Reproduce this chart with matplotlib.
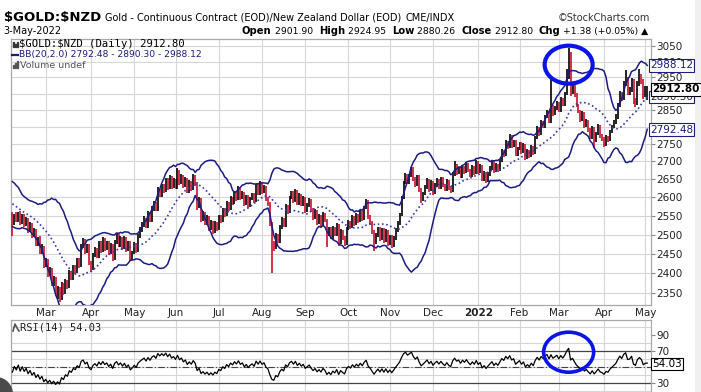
import matplotlib
matplotlib.use('Agg')
import matplotlib.pyplot as plt
from matplotlib.patches import Ellipse, Rectangle
from matplotlib.lines import Line2D
from matplotlib.ticker import NullLocator
from matplotlib.transforms import IdentityTransform, blended_transform_factory
import numpy as np
import pandas as pd

# daily closes before the visible window (only feed the BB / RSI warm-up)
warmup_close = [2618, 2628, 2613, 2633, 2623, 2603, 2588, 2598, 2578, 2583,
                2573, 2588, 2578, 2568, 2558, 2563, 2548, 2538, 2533]

# $GOLD:$NZD daily bars, 4-Feb-2021 .. 3-May-2022 (one row per week)
close = [
    2532, 2551,
    2538, 2556, 2531, 2549, 2527,
    2540, 2512, 2526, 2498, 2510,
    2476, 2489, 2455, 2468, 2421,
    2432, 2398, 2410, 2374, 2386,
    2349, 2362, 2338, 2371, 2352,
    2380, 2366, 2401, 2388, 2415,
    2405, 2433, 2419, 2470, 2482,
    2455, 2470, 2428, 2412, 2446,
    2461, 2444, 2478, 2459, 2486,
    2464, 2478, 2452, 2471, 2438,
    2480, 2497, 2472, 2490, 2466,
    2489, 2461, 2478, 2437, 2452,
    2474, 2458, 2495, 2512, 2526,
    2541, 2522, 2556, 2538, 2569,
    2584, 2568, 2620, 2606, 2631,
    2619, 2648, 2627, 2655, 2630,
    2646, 2628, 2670, 2641, 2659,
    2632, 2650, 2617, 2641, 2624,
    2657, 2638, 2575, 2594, 2541,
    2556, 2530, 2545, 2516, 2532,
    2508, 2529, 2515, 2547, 2536,
    2566, 2552, 2584, 2569, 2598,
    2585, 2612, 2596, 2624, 2599,
    2611, 2583, 2601, 2578, 2596,
    2607, 2590, 2632, 2611, 2638,
    2615, 2628, 2597, 2583, 2530,
    2478, 2465, 2498, 2483, 2519,
    2540, 2525, 2576, 2560, 2598,
    2612, 2590, 2617, 2584, 2605,
    2581, 2597, 2563, 2578, 2592,
    2566, 2545, 2561, 2532, 2548,
    2527, 2553, 2538, 2500, 2515,
    2493, 2517, 2501, 2524, 2480,
    2508, 2491, 2477, 2515, 2533,
    2520, 2546, 2529, 2551, 2537,
    2560, 2543, 2571, 2588, 2548,
    2531, 2507, 2479, 2498, 2515,
    2490, 2512, 2484, 2508, 2476,
    2494, 2470, 2489, 2511, 2530,
    2552, 2598, 2640, 2661, 2642,
    2660, 2679, 2652, 2635, 2657,
    2621, 2594, 2609, 2627, 2646,
    2620, 2641, 2612, 2633, 2647,
    2628, 2651, 2634, 2622, 2645,
    2627, 2618, 2663, 2688, 2669,
    2679, 2658, 2684, 2671, 2693,
    2675, 2661, 2683, 2668, 2697,
    2672, 2687, 2650, 2667, 2646,
    2664, 2681, 2697, 2673, 2690,
    2676, 2702, 2730, 2719, 2756,
    2742, 2771, 2745, 2757, 2721,
    2736, 2751, 2728, 2746, 2712,
    2729, 2716, 2741, 2725, 2768,
    2797, 2780, 2815, 2802, 2831,
    2845, 2818, 2863, 2840, 2856,
    2872, 2850, 2884, 2868, 2899,
    2952, 2995, 2907, 2930, 2897,
    2866, 2848, 2822, 2841, 2803,
    2818, 2792, 2770, 2796, 2761,
    2780, 2803, 2774, 2766, 2748,
    2770, 2762, 2785, 2800, 2815,
    2830, 2865, 2900, 2885, 2930,
    2950, 2905, 2910, 2940, 2880,
    2870, 2930, 2955, 2940, 2895,
    2911.42, 2912.80,
]
high = [
    2560, 2555,
    2559, 2561, 2563, 2555, 2554,
    2546, 2544, 2533, 2530, 2516,
    2515, 2494, 2495, 2474, 2471,
    2438, 2436, 2416, 2413, 2392,
    2390, 2368, 2366, 2377, 2375,
    2386, 2384, 2407, 2405, 2421,
    2420, 2439, 2438, 2476, 2490,
    2487, 2476, 2474, 2432, 2452,
    2467, 2465, 2484, 2482, 2493,
    2490, 2484, 2482, 2477, 2475,
    2486, 2505, 2501, 2496, 2494,
    2495, 2493, 2484, 2482, 2458,
    2480, 2478, 2501, 2519, 2533,
    2548, 2545, 2562, 2560, 2575,
    2590, 2588, 2627, 2624, 2637,
    2636, 2654, 2652, 2661, 2659,
    2652, 2650, 2681, 2675, 2665,
    2663, 2656, 2654, 2647, 2645,
    2664, 2662, 2642, 2600, 2598,
    2562, 2560, 2551, 2549, 2538,
    2536, 2535, 2533, 2553, 2552,
    2572, 2570, 2590, 2588, 2604,
    2602, 2618, 2616, 2630, 2628,
    2617, 2615, 2607, 2605, 2602,
    2613, 2611, 2638, 2636, 2644,
    2642, 2634, 2632, 2601, 2587,
    2534, 2484, 2504, 2502, 2525,
    2546, 2544, 2582, 2580, 2604,
    2618, 2616, 2623, 2621, 2611,
    2609, 2603, 2601, 2584, 2598,
    2596, 2570, 2567, 2565, 2554,
    2552, 2559, 2557, 2542, 2521,
    2519, 2523, 2521, 2530, 2528,
    2514, 2512, 2495, 2521, 2539,
    2537, 2552, 2550, 2557, 2555,
    2566, 2564, 2577, 2594, 2592,
    2552, 2535, 2511, 2504, 2521,
    2519, 2518, 2516, 2514, 2512,
    2500, 2498, 2495, 2517, 2536,
    2558, 2604, 2646, 2668, 2666,
    2666, 2685, 2683, 2656, 2663,
    2661, 2625, 2615, 2633, 2652,
    2650, 2647, 2645, 2639, 2653,
    2651, 2657, 2655, 2638, 2651,
    2649, 2631, 2669, 2702, 2692,
    2685, 2683, 2690, 2688, 2699,
    2697, 2679, 2689, 2687, 2703,
    2701, 2693, 2691, 2673, 2671,
    2670, 2687, 2703, 2701, 2696,
    2694, 2708, 2736, 2734, 2762,
    2760, 2778, 2775, 2763, 2761,
    2742, 2757, 2755, 2752, 2750,
    2735, 2733, 2747, 2745, 2774,
    2803, 2801, 2821, 2819, 2837,
    2851, 2849, 2955, 2867, 2862,
    2878, 2876, 2890, 2888, 2905,
    2977, 3043, 3030, 2936, 2934,
    2901, 2870, 2852, 2847, 2845,
    2824, 2822, 2796, 2802, 2800,
    2786, 2809, 2807, 2778, 2770,
    2776, 2774, 2791, 2806, 2821,
    2840, 2872, 2908, 2905, 2938,
    2972, 2950, 2920, 2948, 2945,
    2888, 2938, 2975, 2962, 2945,
    2925, 2924.95,
]
low = [
    2495, 2525,
    2533, 2532, 2524, 2527, 2521,
    2522, 2505, 2507, 2492, 2493,
    2470, 2469, 2449, 2450, 2414,
    2415, 2391, 2393, 2367, 2369,
    2342, 2335, 2328, 2334, 2346,
    2348, 2360, 2362, 2382, 2384,
    2399, 2401, 2413, 2415, 2465,
    2449, 2451, 2421, 2403, 2408,
    2441, 2438, 2440, 2453, 2455,
    2458, 2460, 2446, 2448, 2430,
    2434, 2476, 2466, 2468, 2460,
    2462, 2455, 2457, 2430, 2433,
    2448, 2452, 2454, 2490, 2507,
    2521, 2516, 2518, 2532, 2534,
    2564, 2562, 2564, 2600, 2602,
    2613, 2615, 2621, 2623, 2624,
    2626, 2622, 2624, 2635, 2637,
    2626, 2628, 2611, 2613, 2618,
    2620, 2632, 2566, 2570, 2534,
    2537, 2524, 2526, 2510, 2512,
    2502, 2504, 2509, 2511, 2530,
    2532, 2546, 2548, 2563, 2565,
    2579, 2581, 2590, 2592, 2593,
    2595, 2577, 2579, 2572, 2574,
    2592, 2584, 2586, 2605, 2607,
    2609, 2611, 2591, 2577, 2522,
    2400, 2458, 2461, 2477, 2479,
    2515, 2519, 2521, 2554, 2556,
    2594, 2584, 2586, 2578, 2580,
    2575, 2577, 2557, 2559, 2574,
    2560, 2539, 2541, 2526, 2528,
    2521, 2523, 2532, 2466, 2496,
    2487, 2489, 2495, 2497, 2470,
    2476, 2485, 2471, 2473, 2511,
    2514, 2516, 2523, 2525, 2531,
    2533, 2537, 2539, 2567, 2542,
    2525, 2501, 2458, 2475, 2494,
    2484, 2486, 2478, 2480, 2470,
    2472, 2464, 2466, 2485, 2507,
    2526, 2548, 2594, 2636, 2636,
    2638, 2656, 2646, 2629, 2631,
    2615, 2585, 2590, 2605, 2623,
    2614, 2616, 2606, 2608, 2629,
    2622, 2624, 2628, 2616, 2618,
    2621, 2612, 2614, 2659, 2663,
    2665, 2652, 2654, 2665, 2667,
    2669, 2655, 2657, 2662, 2664,
    2666, 2668, 2644, 2646, 2640,
    2642, 2660, 2677, 2667, 2669,
    2670, 2672, 2698, 2713, 2715,
    2736, 2738, 2739, 2741, 2715,
    2717, 2732, 2722, 2724, 2704,
    2708, 2710, 2712, 2719, 2721,
    2764, 2774, 2776, 2796, 2798,
    2827, 2812, 2812, 2834, 2836,
    2852, 2844, 2846, 2862, 2864,
    2895, 2945, 2892, 2900, 2889,
    2860, 2842, 2816, 2818, 2797,
    2799, 2786, 2764, 2766, 2740,
    2757, 2776, 2768, 2760, 2742,
    2744, 2756, 2758, 2781, 2796,
    2810, 2825, 2860, 2878, 2880,
    2925, 2895, 2895, 2905, 2870,
    2860, 2865, 2925, 2930, 2885,
    2890, 2880.26,
]

start_date = '2021-02-04'
end_date = '2022-05-03'
month_starts = ['2021-03-01', '2021-04-01', '2021-05-01', '2021-06-01', '2021-07-01',
                '2021-08-01', '2021-09-01', '2021-10-01', '2021-11-01', '2021-12-01',
                '2022-01-01', '2022-02-01', '2022-03-01', '2022-04-01', '2022-05-01']
month_labels = ['Mar', 'Apr', 'May', 'Jun', 'Jul', 'Aug', 'Sep', 'Oct', 'Nov', 'Dec',
                '2022', 'Feb', 'Mar', 'Apr', 'May']
price_ticks = [2350, 2400, 2450, 2500, 2550, 2600, 2650, 2700, 2750, 2800,
               2850, 2900, 2950, 3000, 3050]
rsi_ticks = [30, 70, 90]
bb_last = [2792.48, 2890.30, 2988.12]
last_close = 2912.80
rsi_last = 54.03
spike_day = '2022-03-08'

# ---------------------------------------------------------------- indicators
dates = pd.bdate_range(start_date, end_date)
n = len(close)
xs = np.arange(n)
nw = len(warmup_close)

s = pd.Series(warmup_close + close, dtype=float)
mid = s.rolling(20).mean().to_numpy()[nw:]
sd = s.rolling(20).std(ddof=0).to_numpy()[nw:]
upper = mid + 2 * sd
lower = mid - 2 * sd

delta = s.diff()
gain = delta.clip(lower=0).ewm(alpha=1 / 14, adjust=False).mean()
loss = (-delta.clip(upper=0)).ewm(alpha=1 / 14, adjust=False).mean()
rsi = (100 - 100 / (1 + gain / loss)).to_numpy()[nw:]

prev = np.array([warmup_close[-1]] + close[:-1])
cols = np.where(np.array(close) >= prev, '#000000', '#c8102e')
tick_pos = [int(dates.searchsorted(pd.Timestamp(d))) for d in month_starts]

# ---------------------------------------------------------------- layout
W, H = 701, 392
fig = plt.figure(figsize=(W / 100, H / 100), dpi=100)
fig.patch.set_facecolor('white')


def fx(px):
    return px / W


def fy(py):
    return 1 - py / H


GRID = '#d6d6d6'
FRAME = '#a8a8a8'
NAVY = '#1c1c80'

fig.add_artist(Rectangle((fx(695), 0), fx(W) - fx(695), 1, transform=fig.transFigure,
                         facecolor='#f0f0f0', edgecolor='none', zorder=0))

ax = fig.add_axes([fx(11), fy(305), fx(651) - fx(11), fy(39) - fy(305)])
ax.set_yscale('log')
ax.set_xlim(-0.7, 324.9)
ax.set_ylim(2321, 3072)

ax.vlines(xs, low, high, colors=cols, linewidth=1.2, zorder=3)
ax.plot(xs, upper, color=NAVY, lw=1.1, zorder=4)
ax.plot(xs, lower, color=NAVY, lw=1.1, zorder=4)
ax.plot(xs, mid, color='#3b3bb0', lw=1.2, ls=(0, (1, 1.6)), zorder=4)

ax.yaxis.tick_right()
ax.set_yticks(price_ticks)
ax.set_yticklabels(['' if t in (2800, 2900) else str(t) for t in price_ticks])
ax.yaxis.set_minor_locator(NullLocator())
ax.set_xticks(tick_pos)
ax.set_xticklabels(month_labels)
ax.tick_params(axis='y', length=3, color='#888888', labelsize=7.5, pad=1,
               labelcolor='#222222')
ax.tick_params(axis='x', length=0, labelsize=7.5, pad=2.5, labelcolor='#222222')
ax.get_xticklabels()[10].set_fontweight('bold')
ax.grid(True, color=GRID, lw=0.8)
ax.set_axisbelow(True)
for sp in ax.spines.values():
    sp.set_color(FRAME)
    sp.set_linewidth(0.9)

# right-side value boxes
tr = blended_transform_factory(ax.transAxes, ax.transData)
for v in (bb_last[2], bb_last[1], bb_last[0]):
    ax.text(0.9985, v, f'{v:.2f}', transform=tr, ha='left', va='center',
            fontsize=7.5, color=NAVY, clip_on=False, zorder=6,
            bbox=dict(boxstyle='square,pad=0.12', fc='white', ec=NAVY, lw=0.8))
ax.text(1.0015, last_close, f'{last_close:.2f}', transform=tr, ha='left', va='center',
        fontsize=7.5, fontweight='bold', color='black', clip_on=False, zorder=7,
        bbox=dict(boxstyle='square,pad=0.12', fc='white', ec='black', lw=0.8))

# ---------------------------------------------------------------- RSI panel
ax2 = fig.add_axes([fx(11), fy(394), fx(651) - fx(11), fy(320) - fy(394)])
ax2.set_xlim(-0.7, 324.9)
ax2.set_ylim(16.25, 108.75)
ax2.set_yticks([20, 40, 50, 60, 80, 90, 100], minor=True)
ax2.grid(True, which='minor', axis='y', color=GRID, lw=0.8)
ax2.set_xticks(tick_pos)
ax2.grid(True, which='major', axis='x', color=GRID, lw=0.8)
ax2.set_axisbelow(True)
ax2.axhline(70, color='#444444', lw=0.9, zorder=2)
ax2.axhline(30, color='#444444', lw=0.9, zorder=2)
ax2.axhline(50, color='#444444', lw=0.8, ls=(0, (6, 2, 1, 2)), zorder=2)
ax2.fill_between(xs, rsi, 30, where=rsi < 30, color='#9a4040', alpha=0.8,
                 interpolate=True, zorder=3)
ax2.plot(xs, rsi, color='black', lw=0.9, zorder=4)
ax2.yaxis.tick_right()
ax2.set_yticks(rsi_ticks)
ax2.set_yticklabels([str(t) for t in rsi_ticks])
ax2.tick_params(axis='y', which='both', length=3, color='#888888', labelsize=7.5, pad=1,
                labelcolor='#222222')
ax2.tick_params(axis='y', which='minor', length=0)
ax2.tick_params(axis='x', length=0, labelbottom=False)
for sp in ax2.spines.values():
    sp.set_color(FRAME)
    sp.set_linewidth(0.9)
tr2 = blended_transform_factory(ax2.transAxes, ax2.transData)
ax2.text(1.0015, rsi_last, f'{rsi_last:.2f}', transform=tr2, ha='left', va='center',
         fontsize=7.5, color='black', clip_on=False, zorder=6,
         bbox=dict(boxstyle='square,pad=0.12', fc='white', ec='black', lw=0.8))
fig.text(fx(20), fy(327), f'RSI(14) {rsi_last:.2f}', fontsize=7.5, color='#222222',
         va='center', ha='left', family='DejaVu Sans Mono')
fig.add_artist(Line2D([fx(13), fx(15), fx(17), fx(19)], [fy(331), fy(324), fy(328), fy(331)],
                      color='#555555', lw=1.2))

# ---------------------------------------------------------------- annotations
fig.canvas.draw()
sx = float(dates.searchsorted(pd.Timestamp(spike_day)))
cx, cy = ax.transData.transform((sx, 2990))
fig.add_artist(Ellipse((cx, cy), 48, 38, transform=IdentityTransform(), fill=False,
                       edgecolor='#0a14e6', lw=3.0, zorder=10))
cx2, cy2 = ax2.transData.transform((sx, 68.5))
fig.add_artist(Ellipse((cx2, cy2), 50, 40, transform=IdentityTransform(), fill=False,
                       edgecolor='#0a14e6', lw=2.6, zorder=10))
fig.add_artist(Ellipse((fx(-4), fy(394)), 34 / W, 34 / H, transform=fig.transFigure,
                       facecolor='#4a4a4a', edgecolor='none', zorder=10))

# ---------------------------------------------------------------- header
renderer = fig.canvas.get_renderer()


def chain(x0, y0, pieces):
    xpos = fx(x0)
    for txt, size, weight, gap in pieces:
        t = fig.text(xpos, fy(y0), txt, fontsize=size, fontweight=weight, va='baseline')
        xpos = t.get_window_extent(renderer=renderer).x1 / W + gap / W


chain(4, 21, [(r'\$GOLD:\$NZD', 9.5, 'bold', 4),
              ('Gold - Continuous Contract (EOD)/New Zealand Dollar (EOD)', 7, 'normal', 4),
              ('CME/INDX', 7, 'normal', 0)])
fig.text(fx(650), fy(21), '\u00a9StockCharts.com', fontsize=7, va='baseline', ha='right',
         color='#333333')
fig.text(fx(3), fy(34), '3-May-2022', fontsize=7, va='baseline')
chain(242, 34, [('Open', 7.2, 'bold', 0), (' 2901.90  ', 6.7, 'normal', 0),
                ('High', 7.2, 'bold', 0), (' 2924.95  ', 6.7, 'normal', 0),
                ('Low', 7.2, 'bold', 0), (' 2880.26  ', 6.7, 'normal', 0),
                ('Close', 7.2, 'bold', 0), (' 2912.80  ', 6.7, 'normal', 0),
                ('Chg', 7.2, 'bold', 0), (' +1.38 (+0.05%) \u25b2', 6.7, 'normal', 0)])

# legend rows inside the price panel
fig.text(fx(19), fy(44), r'\$GOLD:\$NZD (Daily) 2912.80', fontsize=7.6, va='center',
         family='DejaVu Sans Mono')
for i, hh in enumerate([5, 3, 5]):
    fig.add_artist(Rectangle((fx(12.5 + i * 2), fy(47)), 1.2 / W, hh / H,
                             transform=fig.transFigure, color='#333333'))
fig.add_artist(Line2D([fx(12), fx(18)], [fy(55), fy(55)], color=NAVY, lw=1.6))
fig.text(fx(19), fy(55), 'BB(20,2.0) 2792.48 - 2890.30 - 2988.12', fontsize=6.6,
         va='center', color=NAVY)
fig.text(fx(20), fy(65), 'Volume undef', fontsize=6.8, va='center', color='#555555')
for i, hh in enumerate([3, 5, 7]):
    fig.add_artist(Rectangle((fx(12.5 + i * 2), fy(68)), 1.3 / W, hh / H,
                             transform=fig.transFigure, color='#555555'))

fig.savefig('out.png', dpi=100)
